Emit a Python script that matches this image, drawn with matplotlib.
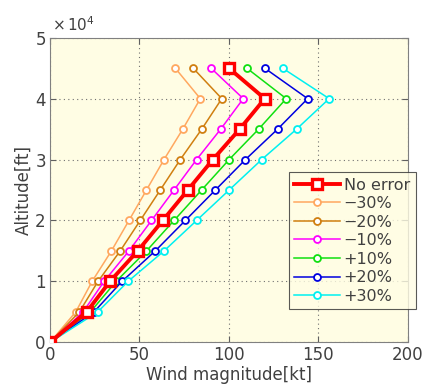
import matplotlib
matplotlib.use("Agg")
import matplotlib.pyplot as plt

altitude = [0, 5000, 10000, 15000, 20000, 25000, 30000, 35000, 40000, 45000]
no_error = [0, 20.5, 33.5, 49, 63, 77, 91, 106, 120, 100]
m30 = [0, 14.4, 23.5, 34.3, 44.1, 53.9, 63.7, 74.2, 84, 70]
m20 = [0, 16.4, 26.8, 39.2, 50.4, 61.6, 72.8, 84.8, 96, 80]
m10 = [0, 18.5, 30.2, 44.1, 56.7, 69.3, 81.9, 95.4, 108, 90]
p10 = [0, 22.6, 36.9, 53.9, 69.3, 84.7, 100.1, 116.6, 132, 110]
p20 = [0, 24.6, 40.2, 58.8, 75.6, 92.4, 109.2, 127.2, 144, 120]
p30 = [0, 26.7, 43.6, 63.7, 81.9, 100.1, 118.3, 137.8, 156, 130]
labels = ["No error", "\u221230%", "\u221220%", "\u221210%", "+10%", "+20%", "+30%"]
xticks = [0, 50, 100, 150, 200]
yticks = [0, 10000, 20000, 30000, 40000, 50000]

plt.rcParams['font.family'] = ['DejaVu Sans']
txtc = '#404040'

fig = plt.figure(figsize=(4.24, 3.89), dpi=100)
ax = fig.add_axes([0.118, 0.12, 0.844, 0.783])
ax.set_facecolor('#FFFDE4')

series = [
    (m30, '#FFA860'),
    (m20, '#D07F10'),
    (m10, '#FF00FF'),
    (p10, '#10E010'),
    (p20, '#0000E0'),
    (p30, '#00F0F0'),
]
handles = []
for vals, c in series:
    h, = ax.plot(vals, altitude, '-o', color=c, lw=1.1, ms=5,
                 mfc='white', mec=c, mew=1.3, zorder=3)
    handles.append(h)
h0, = ax.plot(no_error, altitude, '-s', color='#FF0000', lw=2.8, ms=6.5,
              mfc='white', mec='#FF0000', mew=2.4, zorder=4)
handles = [h0] + handles

ax.set_xlim(0, 200)
ax.set_ylim(0, 50000)
ax.set_xticks(xticks)
ax.set_yticks(yticks)
ax.set_yticklabels([str(int(v / 10000)) for v in yticks])
ax.tick_params(direction='in', length=4, colors='#606060', labelcolor=txtc,
               labelsize=12, top=True, right=True, pad=3)
for s in ax.spines.values():
    s.set_color('#808080')
    s.set_linewidth(0.8)
ax.grid(True, linestyle=(0, (1, 3)), color='#707070', lw=0.8)
ax.set_axisbelow(True)
ax.set_xlabel('Wind magnitude[kt]', fontsize=12, color=txtc, labelpad=1)
ax.set_ylabel('Altitude[ft]', fontsize=12, color=txtc, labelpad=2)
fig.text(0.118 + 0.005, 0.912, r'$\times\,10^{4}$', fontsize=11, color=txtc,
         ha='left', va='bottom')

leg = fig.legend(handles, labels, loc='upper right',
                 bbox_to_anchor=(0.98, 0.558), fontsize=11.5,
                 frameon=True, fancybox=False, handlelength=2.9,
                 handletextpad=0.2, labelspacing=0.22, borderpad=0.35,
                 borderaxespad=0)
leg.get_frame().set_edgecolor('#303030')
leg.get_frame().set_facecolor('#FFFDE4')
leg.get_frame().set_linewidth(0.8)
for t in leg.get_texts():
    t.set_color(txtc)

fig.savefig('out.png', dpi=100)
